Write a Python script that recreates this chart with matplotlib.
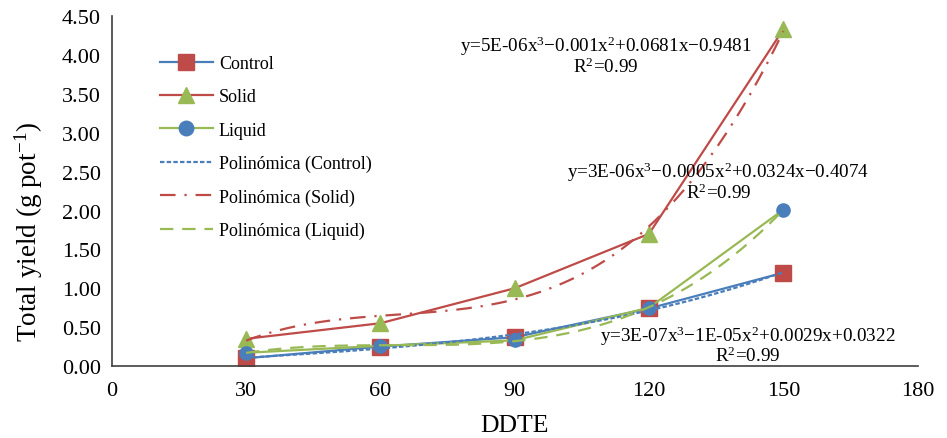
import numpy as np
import matplotlib
matplotlib.use("Agg")
import matplotlib.pyplot as plt
from matplotlib.ticker import FormatStrFormatter

plt.rcParams['font.family'] = ['Liberation Serif', 'DejaVu Serif']
plt.rcParams['mathtext.fontset'] = 'custom'
plt.rcParams['mathtext.rm'] = 'Liberation Serif'
plt.rcParams['mathtext.it'] = 'Liberation Serif:italic'

# data
ddte = [30, 60, 90, 120, 150]
control = [0.10, 0.25, 0.37, 0.74, 1.20]
solid = [0.35, 0.55, 1.00, 1.70, 4.33]
liquid = [0.17, 0.26, 0.33, 0.75, 2.01]

eq_control = "y=3E-07x$^{3}$\u22121E-05x$^{2}$+0.0029x+0.0322\nR$^{2}$=0.99"
eq_solid = "y=5E-06x$^{3}$\u22120.001x$^{2}$+0.0681x\u22120.9481\nR$^{2}$=0.99"
eq_liquid = "y=3E-06x$^{3}$\u22120.0005x$^{2}$+0.0324x\u22120.4074\nR$^{2}$=0.99"

blue = '#4a7ebb'
red = '#be4b48'
green = '#98b954'

fig = plt.figure(figsize=(9.47, 4.39), dpi=100)
ax = fig.add_axes([0.118, 0.164, 0.851, 0.797])

ax.plot(ddte, control, color=blue, lw=1.6, marker='s', ms=11,
        mfc=red, mec=red, label='Control')
ax.plot(ddte, solid, color=red, lw=1.6, marker='^', ms=11,
        mfc=green, mec=green, label='Solid')
ax.plot(ddte, liquid, color=green, lw=1.6, marker='o', ms=9.5,
        mfc=blue, mec=blue, label='Liquid')

# cubic trend lines (excel "Polinómica")
xs = np.linspace(ddte[0], ddte[-1], 200)
styles = [(control, blue, (2, 1), 'Polinómica (Control)'),
          (solid, red, (7, 4, 1, 4), 'Polinómica (Solid)'),
          (liquid, green, (6, 4), 'Polinómica (Liquid)')]
for vals, c, d, lab in styles:
    p = np.polyfit(ddte, vals, 3)
    ax.plot(xs, np.polyval(p, xs), color=c, lw=1.6, dashes=d, label=lab)

eq_kw = dict(ha='center', va='center', fontsize=13.8, linespacing=0.95)
ax.text(110.3, 4.0, eq_solid, **eq_kw)
ax.text(135.5, 2.38, eq_liquid, **eq_kw)
ax.text(142, 0.28, eq_control, **eq_kw)

ax.set_xlim(0, 180)
ax.set_ylim(0, 4.5)
ax.set_xticks(range(0, 181, 30))
ax.set_yticks(np.arange(0, 4.51, 0.5))
ax.yaxis.set_major_formatter(FormatStrFormatter('%.2f'))
ax.tick_params(length=0, labelsize=16)
ax.tick_params(axis='x', pad=11)
ax.tick_params(axis='y', pad=8)
ax.spines['top'].set_visible(False)
ax.spines['right'].set_visible(False)
for s in ['left', 'bottom']:
    ax.spines[s].set_color('#404040')
    ax.spines[s].set_linewidth(1.2)

ax.set_xlabel('DDTE', fontsize=18.5, labelpad=10)
ax.set_ylabel('Total yield (g pot$^{\u22121}$)', fontsize=19.5)
ax.yaxis.set_label_coords(-0.083, 0.386)

ax.legend(loc='upper left', bbox_to_anchor=(0.04, 0.935), frameon=False,
          fontsize=13, handlelength=2.9, labelspacing=0.9, handletextpad=0.35,
          markerscale=1.1)

fig.savefig('out.png', dpi=100)
